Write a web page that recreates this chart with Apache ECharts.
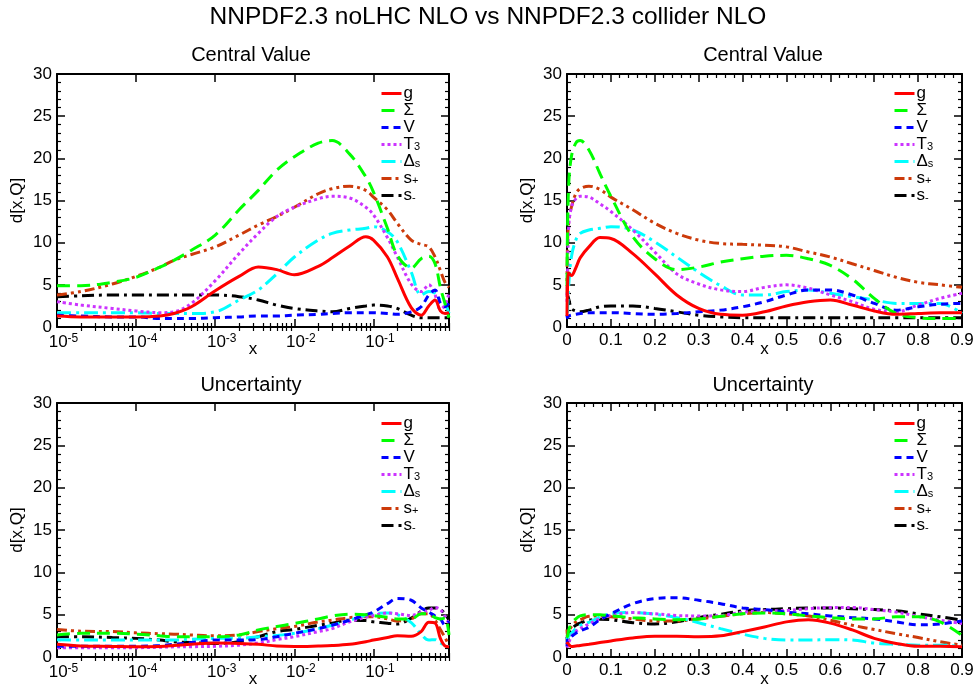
<!DOCTYPE html>
<html><head><meta charset="utf-8">
<script src="https://cdn.jsdelivr.net/npm/echarts@6/dist/echarts.min.js"></script>
<style>html,body{margin:0;padding:0;background:#fff}#c{width:977px;height:690px}</style>
</head><body><div id="c"></div>
<script>
// ---------------- DATA ----------------
const seriesNames = ['g', 'Σ', 'V', 'T3', 'Δs', 's+', 's-'];
const logDecades = [1e-5, 1e-4, 1e-3, 1e-2, 1e-1];
const linTicks = [0, 0.1, 0.2, 0.3, 0.4, 0.5, 0.6, 0.7, 0.8, 0.9];
const yTicks = [0, 5, 10, 15, 20, 25, 30];

const xLog = [1e-5, 2e-5, 5e-5, 1e-4, 2e-4, 3e-4, 5e-4, 1e-3, 2e-3, 3.5e-3, 6e-3, 1e-2, 2e-2, 3e-2, 5e-2, 8e-2, 0.1, 0.15, 0.2, 0.3, 0.4, 0.5, 0.6, 0.7, 0.8, 0.9];
const xLin = [1e-5, 0.001, 0.004, 0.01, 0.02, 0.03, 0.05, 0.075, 0.1, 0.15, 0.2, 0.25, 0.3, 0.35, 0.4, 0.45, 0.5, 0.55, 0.6, 0.65, 0.7, 0.75, 0.8, 0.85, 0.9];

// Central value, log x
const cvLogG     = [1.3, 1.2, 1.2, 1.2, 1.3, 1.6, 2.4, 4.3, 6.0, 7.1, 6.8, 6.2, 7.2, 8.2, 9.6, 10.7, 10.3, 8.3, 5.8, 2.3, 1.4, 2.5, 3.2, 1.9, 1.6, 1.7];
const cvLogSigma = [4.9, 4.9, 5.3, 5.9, 7.1, 7.9, 9.1, 10.9, 13.9, 16.2, 18.6, 20.2, 21.8, 22.1, 20.5, 17.8, 16.0, 11.7, 8.5, 7.0, 8.1, 8.4, 7.5, 4.7, 2.8, 1.1];
const cvLogV     = [1.4, 1.3, 1.2, 1.2, 1.0, 1.0, 1.0, 1.1, 1.2, 1.3, 1.3, 1.4, 1.5, 1.6, 1.7, 1.7, 1.7, 1.6, 1.5, 1.8, 2.4, 3.8, 4.4, 2.8, 2.4, 2.8];
const cvLogT3    = [3.0, 2.6, 2.2, 1.9, 1.7, 1.8, 2.8, 5.5, 8.7, 11.1, 13.1, 14.2, 15.2, 15.5, 15.3, 14.2, 13.3, 10.6, 8.3, 5.1, 4.2, 5.0, 3.8, 2.1, 2.6, 4.0];
const cvLogDs    = [1.7, 1.7, 1.7, 1.7, 1.6, 1.6, 1.6, 1.8, 3.2, 4.4, 6.3, 8.3, 10.3, 11.1, 11.5, 11.7, 11.9, 11.3, 10.1, 6.5, 3.8, 4.2, 4.0, 3.2, 2.8, 1.6];
const cvLogSp    = [3.8, 4.2, 5.1, 6.0, 7.1, 7.9, 8.6, 9.5, 10.9, 12.1, 13.1, 14.2, 15.8, 16.4, 16.7, 16.2, 15.4, 13.9, 12.3, 10.3, 9.8, 9.5, 8.3, 6.7, 5.3, 4.7];
const cvLogSm    = [3.6, 3.7, 3.8, 3.8, 3.8, 3.8, 3.8, 3.8, 3.6, 3.2, 2.6, 2.2, 1.9, 1.8, 2.2, 2.5, 2.6, 2.5, 2.2, 1.4, 1.1, 1.1, 1.1, 1.1, 1.1, 1.1];

// Central value, linear x
const cvLinG     = [1.3, 4.3, 6.4, 6.1, 7.0, 8.2, 9.5, 10.6, 10.5, 8.7, 6.3, 3.8, 2.2, 1.5, 1.4, 1.8, 2.5, 3.0, 3.2, 2.6, 1.9, 1.5, 1.6, 1.7, 1.7];
const cvLinSigma = [4.9, 10.9, 17.0, 20.2, 21.8, 22.1, 21.0, 18.2, 15.5, 10.7, 8.1, 6.8, 7.1, 7.7, 8.1, 8.4, 8.5, 8.1, 7.3, 5.7, 3.4, 1.6, 1.1, 1.0, 1.0];
const cvLinV     = [1.4, 1.1, 1.3, 1.4, 1.5, 1.6, 1.7, 1.7, 1.7, 1.6, 1.5, 1.6, 1.8, 2.0, 2.4, 3.0, 3.8, 4.4, 4.4, 3.8, 2.8, 2.0, 2.4, 2.7, 2.8];
const cvLinT3    = [3.0, 5.5, 12.0, 14.2, 15.2, 15.5, 15.4, 14.6, 13.7, 11.5, 8.9, 6.3, 5.1, 4.4, 4.2, 4.7, 5.0, 4.6, 3.8, 3.0, 2.1, 1.8, 2.6, 3.4, 4.0];
const cvLinDs    = [1.7, 1.8, 5.0, 8.3, 10.3, 11.1, 11.5, 11.7, 11.9, 11.5, 10.1, 8.3, 6.5, 4.9, 3.8, 3.8, 4.2, 4.4, 4.0, 3.6, 3.2, 2.8, 2.8, 2.8, 1.6];
const cvLinSp    = [3.8, 9.5, 12.5, 14.2, 15.8, 16.4, 16.7, 16.3, 15.4, 13.9, 12.3, 11.1, 10.3, 9.9, 9.8, 9.7, 9.5, 8.9, 8.3, 7.5, 6.7, 5.9, 5.3, 5.0, 4.7];
const cvLinSm    = [3.6, 3.8, 3.3, 2.2, 1.9, 1.8, 2.0, 2.4, 2.5, 2.5, 2.2, 1.8, 1.4, 1.2, 1.1, 1.1, 1.1, 1.1, 1.1, 1.1, 1.1, 1.1, 1.1, 1.1, 1.1];

// Uncertainty, log x
const unLogG     = [1.5, 1.3, 1.25, 1.2, 1.25, 1.35, 1.5, 1.65, 1.6, 1.5, 1.3, 1.25, 1.3, 1.35, 1.5, 1.8, 2.0, 2.3, 2.5, 2.45, 3.0, 4.1, 4.0, 2.2, 1.3, 1.2];
const unLogSigma = [2.6, 2.8, 2.8, 2.7, 2.5, 2.4, 2.4, 2.4, 2.6, 3.2, 3.6, 3.95, 4.5, 4.85, 5.05, 5.0, 4.9, 4.7, 4.5, 4.5, 5.1, 5.1, 4.65, 4.5, 4.6, 2.6];
const unLogV     = [1.26, 1.26, 1.26, 1.26, 1.35, 1.5, 1.7, 2.0, 2.0, 2.05, 2.4, 2.8, 3.35, 3.75, 4.35, 5.0, 5.3, 6.3, 6.9, 6.7, 5.8, 5.3, 4.85, 4.5, 3.8, 4.25];
const unLogT3    = [1.1, 1.1, 1.1, 1.1, 1.15, 1.2, 1.22, 1.26, 1.4, 1.65, 2.05, 2.4, 3.0, 3.35, 4.15, 4.7, 4.9, 5.2, 5.1, 4.9, 5.3, 5.5, 5.85, 5.6, 4.8, 3.95];
const unLogDs    = [2.05, 2.0, 2.0, 2.0, 2.0, 2.0, 2.1, 2.2, 2.2, 2.4, 2.55, 2.8, 3.35, 3.75, 4.35, 4.9, 5.1, 5.2, 5.0, 4.05, 2.7, 2.0, 2.05, 1.65, 1.4, 1.25];
const unLogSp    = [3.25, 3.05, 3.0, 2.85, 2.75, 2.7, 2.6, 2.5, 2.6, 3.0, 3.35, 3.6, 4.15, 4.35, 4.65, 4.75, 4.75, 4.5, 4.25, 4.5, 5.1, 5.1, 4.35, 3.25, 2.3, 1.4];
const unLogSm    = [2.4, 2.4, 2.3, 2.2, 2.0, 1.8, 1.7, 1.6, 1.8, 2.4, 3.0, 3.25, 3.75, 4.0, 4.35, 4.3, 4.15, 4.0, 3.9, 4.6, 5.4, 5.8, 5.8, 5.6, 5.1, 4.35];

// Uncertainty, linear x
const unLinG     = [1.5, 1.65, 1.5, 1.25, 1.3, 1.35, 1.5, 1.7, 1.9, 2.25, 2.45, 2.45, 2.4, 2.5, 3.0, 3.55, 4.15, 4.4, 4.0, 3.2, 2.2, 1.6, 1.26, 1.26, 1.2];
const unLinSigma = [2.6, 2.4, 3.2, 3.95, 4.5, 4.85, 5.0, 5.0, 4.85, 4.65, 4.5, 4.4, 4.5, 4.8, 5.1, 5.2, 5.1, 4.85, 4.65, 4.5, 4.5, 4.75, 4.75, 4.15, 2.55];
const unLinV     = [1.26, 2.0, 2.05, 2.4, 2.8, 3.1, 3.5, 4.4, 5.1, 6.3, 6.9, 7.0, 6.7, 6.3, 5.8, 5.6, 5.3, 5.1, 4.85, 4.65, 4.5, 4.15, 3.8, 3.9, 4.25];
const unLinT3    = [1.1, 1.26, 1.7, 2.4, 3.0, 3.35, 3.9, 4.5, 4.9, 5.25, 5.1, 4.9, 4.85, 4.9, 5.3, 5.45, 5.5, 5.7, 5.85, 5.85, 5.6, 5.3, 4.8, 4.35, 3.95];
const unLinDs    = [2.05, 2.2, 2.45, 2.8, 3.35, 3.75, 4.1, 4.7, 5.1, 5.25, 5.05, 4.65, 4.05, 3.35, 2.7, 2.2, 2.0, 2.0, 2.05, 2.0, 1.65, 1.5, 1.4, 1.4, 1.25];
const unLinSp    = [3.25, 2.5, 3.0, 3.6, 4.15, 4.4, 4.8, 4.85, 4.75, 4.5, 4.25, 4.25, 4.5, 4.8, 5.1, 5.25, 5.1, 4.85, 4.35, 3.75, 3.25, 2.75, 2.3, 1.8, 1.4];
const unLinSm    = [2.4, 1.6, 2.4, 3.25, 3.75, 4.0, 4.35, 4.45, 4.4, 4.05, 3.9, 4.15, 4.65, 5.05, 5.45, 5.6, 5.7, 5.8, 5.8, 5.7, 5.6, 5.45, 5.1, 4.75, 4.35];

// ---------------- STYLE ----------------
const FONT = 'Liberation Sans, Arial, Helvetica, sans-serif';
const colors = ['#ff0000', '#00ff00', '#0000ff', '#cc33ff', '#00ffff', '#cc3a0a', '#000000'];
const dashes = ['solid', [13, 7], [7, 5], [3, 3], [14, 5, 3, 5], [10, 4, 3, 4, 3, 4], [12, 5, 3, 5]];
const legendRich = {
  m: { fontSize: 17, lineHeight: 16, fontFamily: FONT, color: '#000' },
  sub: { fontSize: 11, lineHeight: 4, verticalAlign: 'bottom', fontFamily: FONT, color: '#000' }
};
const legendLabel = { 'g': '{m|g}', 'Σ': '{m|Σ}', 'V': '{m|V}', 'T3': '{m|T}{sub|3}', 'Δs': '{m|Δ}{sub|s}', 's+': '{m|s}{sub|+}', 's-': '{m|s}{sub|-}' };

const grids = [
  { left: 57, top: 74, width: 392, height: 253 },
  { left: 567, top: 74, width: 395, height: 253 },
  { left: 57, top: 403, width: 392, height: 254 },
  { left: 567, top: 403, width: 395, height: 254 }
];

const minorLog = [];
for (let d = -5; d <= -1; d++) for (let k = 2; k <= 9; k++) {
  const v = +(k * Math.pow(10, d)).toPrecision(3);
  if (v <= 0.9) minorLog.push(v);
}

const xAxes = [], yAxes = [], series = [], legends = [];
const lineAx = { show: true, onZero: false, lineStyle: { color: '#000', width: 2 } };

function addLogX(gi) {
  const base = { type: 'log', logBase: 10, min: 1e-5, max: 0.9, gridIndex: gi, splitLine: { show: false }, axisLine: lineAx };
  const idx = xAxes.length;
  xAxes.push(Object.assign({}, base, {
    position: 'bottom', name: 'x', nameLocation: 'middle', nameGap: 14, nameMoveOverlap: false,
    nameTextStyle: { fontSize: 17, fontFamily: FONT, color: '#000' },
    axisTick: { inside: true, length: 8, customValues: logDecades, lineStyle: { color: '#000', width: 1.5 } },
    axisLabel: {
      customValues: logDecades, margin: 6, color: '#000',
      formatter: v => '{b|10}{s|' + Math.round(Math.log10(v)) + '}',
      rich: {
        b: { fontSize: 17, lineHeight: 18, fontFamily: FONT, color: '#000', padding: [0, 0, 0, 13] },
        s: { fontSize: 12, lineHeight: 6, verticalAlign: 'top', fontFamily: FONT, color: '#000' }
      }
    }
  }));
  xAxes.push(Object.assign({}, base, { position: 'bottom', axisLine: { show: false },
    axisTick: { inside: true, length: 4, customValues: minorLog, lineStyle: { color: '#000', width: 1.2 } }, axisLabel: { show: false } }));
  xAxes.push(Object.assign({}, base, { position: 'top',
    axisTick: { inside: true, length: 8, customValues: logDecades, lineStyle: { color: '#000', width: 1.5 } }, axisLabel: { show: false } }));
  xAxes.push(Object.assign({}, base, { position: 'top', axisLine: { show: false },
    axisTick: { inside: true, length: 4, customValues: minorLog, lineStyle: { color: '#000', width: 1.2 } }, axisLabel: { show: false } }));
  return idx;
}
function addLinX(gi) {
  const base = { type: 'value', min: 0, max: 0.9, interval: 0.1, gridIndex: gi, splitLine: { show: false }, axisLine: lineAx,
    axisTick: { inside: true, length: 8, lineStyle: { color: '#000', width: 1.5 } },
    minorTick: { show: true, splitNumber: 5, length: 4, lineStyle: { color: '#000', width: 1.2 } }, minorSplitLine: { show: false } };
  const idx = xAxes.length;
  xAxes.push(Object.assign({}, base, {
    position: 'bottom', name: 'x', nameLocation: 'middle', nameGap: 14, nameMoveOverlap: false,
    nameTextStyle: { fontSize: 17, fontFamily: FONT, color: '#000' },
    axisLabel: { customValues: linTicks, margin: 5, fontSize: 17, fontFamily: FONT, color: '#000', formatter: v => v === 0 ? '0' : v.toFixed(1) }
  }));
  xAxes.push(Object.assign({}, base, { position: 'top', axisLabel: { show: false } }));
  return idx;
}
function addY(gi) {
  const base = { type: 'value', min: 0, max: 30, interval: 5, gridIndex: gi, splitLine: { show: false }, axisLine: lineAx,
    axisTick: { inside: true, length: 8, lineStyle: { color: '#000', width: 1.5 } },
    minorTick: { show: true, splitNumber: 5, length: 4, lineStyle: { color: '#000', width: 1.2 } }, minorSplitLine: { show: false } };
  const idx = yAxes.length;
  yAxes.push(Object.assign({}, base, {
    position: 'left', name: 'd[x,Q]', nameLocation: 'middle', nameRotate: 90, nameGap: 31, nameMoveOverlap: false,
    nameTextStyle: { fontSize: 17, fontFamily: FONT, color: '#000' },
    axisLabel: { customValues: yTicks, margin: 5, fontSize: 17, fontFamily: FONT, color: '#000' }
  }));
  yAxes.push(Object.assign({}, base, { position: 'right', axisLabel: { show: false } }));
  return idx;
}

function addPanel(gi, isLog, xArr, arrays, legLeft, legTop) {
  const xi = isLog ? addLogX(gi) : addLinX(gi);
  const yi = addY(gi);
  arrays.forEach((vals, k) => {
    series.push({
      type: 'line', name: seriesNames[k], xAxisIndex: xi, yAxisIndex: yi,
      data: xArr.map((x, i) => [x, vals[i]]),
      smooth: 0.35, symbol: 'none', showSymbol: false, clip: true,
      lineStyle: { color: colors[k], width: 3, type: dashes[k], cap: 'butt' },
      itemStyle: { color: colors[k] },
      z: 10 - k
    });
  });
  legends.push({
    orient: 'vertical', left: legLeft, top: legTop, itemWidth: 20, itemHeight: 14, itemGap: 0,
    data: seriesNames, selectedMode: false,
    itemStyle: { color: 'rgba(0,0,0,0)', borderWidth: 0, opacity: 0 },
    lineStyle: { width: 3 },
    formatter: n => legendLabel[n], textStyle: { rich: legendRich, fontSize: 17, lineHeight: 16, padding: [0, 0, 0, -3] }
  });
}

addPanel(0, true, xLog, [cvLogG, cvLogSigma, cvLogV, cvLogT3, cvLogDs, cvLogSp, cvLogSm], 375, 80);
addPanel(1, false, xLin, [cvLinG, cvLinSigma, cvLinV, cvLinT3, cvLinDs, cvLinSp, cvLinSm], 888, 80);
addPanel(2, true, xLog, [unLogG, unLogSigma, unLogV, unLogT3, unLogDs, unLogSp, unLogSm], 375, 410);
addPanel(3, false, xLin, [unLinG, unLinSigma, unLinV, unLinT3, unLinDs, unLinSp, unLinSm], 888, 410);

const titleTexts = [
  { text: 'NNPDF2.3 noLHC NLO vs NNPDF2.3 collider NLO', x: 488, y: 17, size: 24.5 },
  { text: 'Central Value', x: 251, y: 55, size: 20 },
  { text: 'Central Value', x: 763, y: 55, size: 20 },
  { text: 'Uncertainty', x: 251, y: 385, size: 20 },
  { text: 'Uncertainty', x: 763, y: 385, size: 20 }
];

const chart = echarts.init(document.getElementById('c'), null, { renderer: 'canvas' });
chart.setOption({
  animation: false,
  backgroundColor: '#fff',
  grid: grids,
  xAxis: xAxes,
  yAxis: yAxes,
  legend: legends,
  series: series,
  graphic: titleTexts.map(t => ({
    type: 'text', x: t.x, y: t.y,
    style: { text: t.text, fontSize: t.size, fontFamily: FONT, fill: '#000', align: 'center', verticalAlign: 'middle' }
  }))
});
</script></body></html>
